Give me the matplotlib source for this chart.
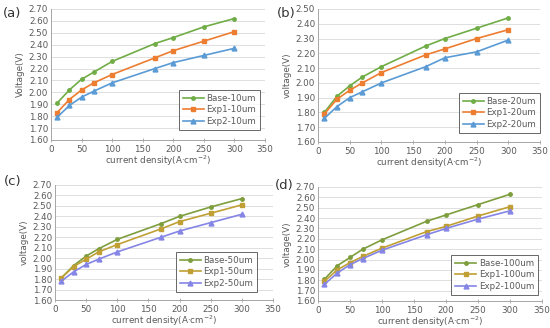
import matplotlib
matplotlib.use('Agg')
import matplotlib.pyplot as plt

# current density points (A/cm2)
current = [10, 30, 50, 70, 100, 170, 200, 250, 300]

# (a) 10um
base_10 = [1.91, 2.02, 2.11, 2.17, 2.26, 2.41, 2.46, 2.55, 2.62]
exp1_10 = [1.83, 1.94, 2.02, 2.08, 2.15, 2.29, 2.35, 2.43, 2.51]
exp2_10 = [1.79, 1.89, 1.96, 2.01, 2.08, 2.20, 2.25, 2.31, 2.37]

# (b) 20um
base_20 = [1.80, 1.91, 1.98, 2.04, 2.11, 2.25, 2.30, 2.37, 2.44]
exp1_20 = [1.79, 1.89, 1.95, 2.00, 2.07, 2.19, 2.23, 2.30, 2.36]
exp2_20 = [1.76, 1.84, 1.90, 1.94, 2.00, 2.11, 2.17, 2.21, 2.29]

# (c) 50um
base_50 = [1.81, 1.93, 2.02, 2.09, 2.18, 2.33, 2.40, 2.49, 2.57]
exp1_50 = [1.81, 1.92, 1.99, 2.06, 2.13, 2.28, 2.35, 2.43, 2.51]
exp2_50 = [1.78, 1.87, 1.94, 1.99, 2.06, 2.20, 2.26, 2.34, 2.42]

# (d) 100um
base_100 = [1.81, 1.94, 2.02, 2.10, 2.19, 2.37, 2.43, 2.53, 2.63]
exp1_100 = [1.79, 1.90, 1.97, 2.03, 2.11, 2.27, 2.32, 2.42, 2.51]
exp2_100 = [1.76, 1.87, 1.95, 2.01, 2.09, 2.24, 2.30, 2.39, 2.47]

TOP_COLORS = ['#70AD47', '#ED7D31', '#5B9BD5']
BOT_COLORS = ['#7E9E3E', '#C0A035', '#8585E6']
MARKERS = ['o', 's', '^']
MSIZE = [2.5, 3.5, 3.5]
TXT = '#595959'

W, H = 550, 328
fig = plt.figure(figsize=(W / 100, H / 100), dpi=100)
fig.patch.set_facecolor('white')


def box(l, r, t, b):
    return [l / W, 1 - b / H, (r - l) / W, (b - t) / H]


def panel(rect, series, labels, colors, ylim, ylabel, tag, tag_xy, leg_rect):
    ax = fig.add_axes(box(*rect))
    for y, lab, c, m, ms in zip(series, labels, colors, MARKERS, MSIZE):
        ax.plot(current, y, color=c, marker=m, markersize=ms, linewidth=1.2, label=lab)
    ax.set_xlim(0, 350)
    ax.set_ylim(*ylim)
    ax.set_xticks(range(0, 351, 50))
    n = int(round((ylim[1] - ylim[0]) / 0.1))
    yt = [ylim[0] + 0.1 * i for i in range(n + 1)]
    ax.set_yticks(yt)
    ax.set_yticklabels([f'{v:.2f}' for v in yt])
    ax.grid(axis='y', color='#d9d9d9', linewidth=0.6)
    ax.set_axisbelow(True)
    for s in ['top', 'right']:
        ax.spines[s].set_visible(False)
    for s in ['left', 'bottom']:
        ax.spines[s].set_color('#a6a6a6')
        ax.spines[s].set_linewidth(0.7)
    ax.tick_params(axis='both', labelsize=6.3, colors=TXT, length=2.5, width=0.6, pad=2)
    ax.tick_params(axis='y', length=0)
    ax.tick_params(axis='x', direction='inout', color='#a6a6a6', length=3)
    ax.set_ylabel(ylabel, fontsize=6.3, color=TXT, labelpad=3)
    ax.set_xlabel('current density(A·cm$^{-2}$)', fontsize=6.3, color=TXT, labelpad=0)
    l, r, t, b = rect
    fig.text(tag_xy[0] / W, 1 - tag_xy[1] / H, tag, fontsize=9.5, color='#333333', va='center')
    lx, ly = leg_rect
    leg = ax.legend(loc='lower right', bbox_to_anchor=((lx - l) / (r - l), (b - ly) / (b - t)),
                    fontsize=6.3, frameon=True, fancybox=False, handlelength=2.4,
                    borderpad=0.45, labelspacing=0.3, handletextpad=0.3, borderaxespad=0)
    leg.get_frame().set_edgecolor('#404040')
    leg.get_frame().set_linewidth(0.7)
    for t_ in leg.get_texts():
        t_.set_color(TXT)
    return ax


panel((51, 265, 9, 140), [base_10, exp1_10, exp2_10],
      ['Base-10um', 'Exp1-10um', 'Exp2-10um'], TOP_COLORS, (1.6, 2.7),
      'Voltage(V)', '(a)', (3, 14), (260, 130))
panel((318, 540, 9, 142), [base_20, exp1_20, exp2_20],
      ['Base-20um', 'Exp1-20um', 'Exp2-20um'], TOP_COLORS, (1.6, 2.5),
      'voltage(V)', '(b)', (277, 14), (540, 133))
panel((55, 273, 185, 300), [base_50, exp1_50, exp2_50],
      ['Base-50um', 'Exp1-50um', 'Exp2-50um'], BOT_COLORS, (1.6, 2.7),
      'voltage(V)', '(c)', (4, 181), (257, 292))
panel((318, 542, 187, 301), [base_100, exp1_100, exp2_100],
      ['Base-100um', 'Exp1-100um', 'Exp2-100um'], BOT_COLORS, (1.6, 2.7),
      'voltage(V)', '(d)', (275, 186), (538, 295))

fig.savefig('out.png', dpi=100, facecolor='white')
